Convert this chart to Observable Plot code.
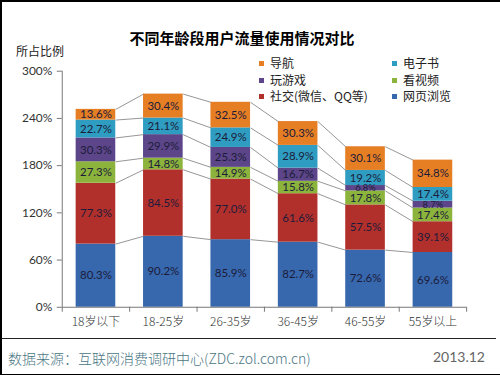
<!DOCTYPE html>
<html><head><meta charset="utf-8">
<script src="https://cdn.jsdelivr.net/npm/d3@7"></script>
<script src="https://cdn.jsdelivr.net/npm/@observablehq/plot@0.6"></script>
<style>
body{margin:0;background:#fff}
#wrap{position:relative;width:500px;height:375px;overflow:hidden;background:#fff;font-family:Lato,"Noto Sans CJK SC",sans-serif;box-sizing:border-box;border-left:2px solid #000;border-top:2px solid #000;border-bottom:1px solid #000}
#chart{position:absolute;left:-2px;top:-2px}
.t{position:absolute;white-space:nowrap;font-family:"Noto Sans CJK SC",sans-serif}
#title{left:0;width:480px;text-align:center;top:25px;font-size:15px;font-weight:bold;color:#000}
#ylab{left:14px;top:40px;font-size:12px;color:#222}
.lg{position:absolute;font-size:12px;color:#222;font-family:"Noto Sans CJK SC",sans-serif;white-space:nowrap;line-height:14px}
.lg span{display:inline-block;width:5px;height:5px;margin-right:6px;vertical-align:middle;position:relative;top:-1px}
#rule{position:absolute;left:0;top:336px;width:494px;height:1px;background:#222}
#src{left:6px;top:346px;font-size:14px;color:#4a7684;font-weight:300}
#date{right:15px;top:346px;font-size:14px;color:#666;font-family:Lato,sans-serif}
</style></head>
<body><div id="wrap"><div id="chart"></div>
<div class="t" id="title">不同年龄段用户流量使用情况对比</div>
<div class="t" id="ylab">所占比例</div>
<div id="legend"></div>
<div id="rule"></div>
<div class="t" id="src">数据来源：互联网消费调研中心(ZDC.zol.com.cn)</div>
<div class="t" id="date">2013.12</div>
</div>
<script>
const categories = ["18岁以下","18-25岁","26-35岁","36-45岁","46-55岁","55岁以上"];
const seriesNames = ["网页浏览","社交(微信、QQ等)","看视频","玩游戏","电子书","导航"];
const web    = [80.3, 90.2, 85.9, 82.7, 72.6, 69.6];
const social = [77.3, 84.5, 77.0, 61.6, 57.5, 39.1];
const video  = [27.3, 14.8, 14.9, 15.8, 17.8, 17.4];
const game   = [30.3, 29.9, 25.3, 16.7, 6.8, 8.7];
const ebook  = [22.7, 21.1, 24.9, 28.9, 19.2, 17.4];
const nav    = [13.6, 30.4, 32.5, 30.3, 30.1, 34.8];
const colors = ["#3767ad","#b2302b","#8cb43c","#5c4689","#2f9dc1","#e67e24"];
const yTicks = [0, 60, 120, 180, 240, 300];

const series = [web, social, video, game, ebook, nav];
const hw = 0.294;
const rows = [];
const tops = series.map(() => []);
categories.forEach((c, i) => {
  let cum = 0;
  series.forEach((vals, s) => {
    const v = vals[i];
    rows.push({i, s, name: seriesNames[s], v, y1: cum, y2: cum + v});
    cum += v;
    tops[s][i] = cum;
  });
});
const links = [];
for (let i = 0; i < categories.length - 1; i++) {
  series.forEach((_, s) => links.push({x1: i + hw, x2: i + 1 - hw, y1: tops[s][i], y2: tops[s][i + 1]}));
}
const bounds = d3.range(categories.length + 1).map(k => k - 0.5);
const bigRows = rows.filter(d => d.v >= 12);
const smallRows = rows.filter(d => d.v < 12);

const chart = Plot.plot({
  width: 502, height: 377,
  marginTop: 71, marginBottom: 69, marginLeft: 62, marginRight: 34,
  style: {fontFamily: "Lato, 'Noto Sans CJK SC', sans-serif", background: "transparent"},
  x: {type: "linear", domain: [-0.5, categories.length - 0.5]},
  y: {domain: [0, 300]},
  color: {domain: d3.range(6), range: colors},
  marks: [
    Plot.rectY(rows, {x1: d => d.i - hw, x2: d => d.i + hw, y1: "y1", y2: "y2", fill: "s"}),
    Plot.link(links, {x1: "x1", x2: "x2", y1: "y1", y2: "y2", stroke: "#7a7a7a", strokeWidth: 0.8}),
    Plot.text(bigRows, {x: "i", y: d => (d.y1 + d.y2) / 2, text: d => d.v.toFixed(1) + "%", fill: "#1c1c3a", fontSize: 11.5}),
    Plot.text(smallRows, {x: "i", y: d => (d.y1 + d.y2) / 2, text: d => d.v.toFixed(1) + "%", fill: "#1c1c3a", fontSize: 9.5}),
    Plot.ruleX([-0.5], {stroke: "#777"}),
    Plot.ruleY([0], {stroke: "#777"}),
    Plot.axisY({ticks: yTicks, tickFormat: d => d + "%", tickSize: 5, tickPadding: 5, fontSize: 12, color: "#333", label: null, stroke: "#777"}),
    Plot.axisX({ticks: bounds, tickFormat: () => "", tickSize: 5, label: null, stroke: "#777"}),
    Plot.axisX({ticks: d3.range(categories.length), tickFormat: d => categories[d], tickSize: 0, tickPadding: 10, fontSize: 12, fontWeight: 300, color: "#333", label: null, fontFamily: "'Noto Sans CJK SC', sans-serif"})
  ]
});
document.getElementById("chart").appendChild(chart);

// legend (two columns, top right)
const legendOrder = [[5, 4], [3, 2], [1, 0]];
const lg = document.getElementById("legend");
legendOrder.forEach((pair, r) => {
  pair.forEach((s, c) => {
    const d = document.createElement("div");
    d.className = "lg";
    d.style.left = (c === 0 ? 257 : 390) + "px";
    d.style.top = (54 + r * 16.5) + "px";
    d.innerHTML = `<span style="background:${colors[s]}"></span>${seriesNames[s]}`;
    lg.appendChild(d);
  });
});
</script>
</body></html>
